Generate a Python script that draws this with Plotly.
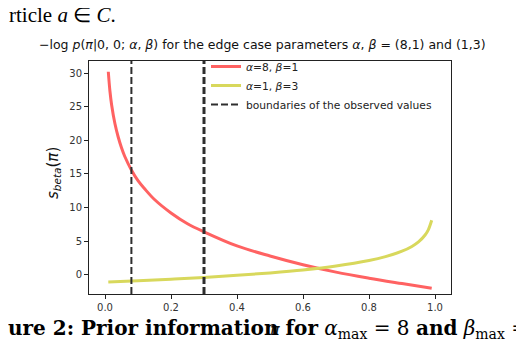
import plotly.graph_objects as go

# values
pi_red = [0.01, 0.015, 0.02, 0.03, 0.04, 0.05, 0.06, 0.08, 0.1, 0.12, 0.15,
          0.2, 0.25, 0.3, 0.4, 0.5, 0.6, 0.7, 0.8, 0.9, 0.99]
s_red = [30.2, 27.3, 25.3, 22.5, 20.5, 18.9, 17.6, 15.6, 14.0, 12.8, 11.2,
         9.2, 7.6, 6.4, 4.3, 2.8, 1.5, 0.4, -0.5, -1.3, -2.0]

pi_yel = [0.01, 0.1, 0.2, 0.3, 0.4, 0.5, 0.6, 0.7, 0.8, 0.85, 0.9, 0.93,
          0.95, 0.97, 0.98, 0.99]
s_yel = [-1.08, -0.89, -0.65, -0.39, -0.08, 0.29, 0.73, 1.31, 2.12, 2.70,
         3.51, 4.22, 4.89, 5.92, 6.73, 8.11]

boundaries = [0.08, 0.3]

x_range = [-0.0485, 1.0485]
y_range = [-2.85, 31.8]
x_ticks = [0.0, 0.2, 0.4, 0.6, 0.8, 1.0]
y_ticks = [0, 5, 10, 15, 20, 25, 30]

W, H = 524, 342
L, R, T, B = 81, 81, 53, 56
pw, ph = W - L - R, H - T - B


def px(x):
    return (x - L) / pw


def py(y):
    return (H - B - y) / ph


fig = go.Figure()
fig.add_trace(go.Scatter(
    x=pi_red, y=s_red, mode="lines", name="<i>α</i>=8, <i>β</i>=1",
    line=dict(color="#ff6262", width=3, shape="spline"),
))
fig.add_trace(go.Scatter(
    x=pi_yel, y=s_yel, mode="lines", name="<i>α</i>=1, <i>β</i>=3",
    line=dict(color="#d8d85c", width=3, shape="spline"),
))
for i, b in enumerate(boundaries):
    fig.add_trace(go.Scatter(
        x=[b, b], y=y_range, mode="lines",
        name="boundaries of the observed values",
        showlegend=(i == 0),
        line=dict(color="#2e2e2e", width=2 if i == 0 else 3, dash="7px,3px"),
    ))

axis_common = dict(
    showgrid=False, zeroline=False, showline=True, linecolor="#222",
    linewidth=1, mirror=True, ticks="outside", ticklen=4, tickwidth=1,
    tickcolor="#222", tickfont=dict(family="DejaVu Sans", size=10, color="#333"),
)
fig.update_xaxes(range=x_range, tickvals=x_ticks,
                 ticktext=[f"{t:.1f}" for t in x_ticks], **axis_common)
fig.update_yaxes(range=y_range, tickvals=y_ticks, **axis_common)

fig.update_layout(
    width=W, height=H,
    margin=dict(l=L, r=R, t=T, b=B),
    plot_bgcolor="white", paper_bgcolor="white",
    font=dict(family="DejaVu Sans", color="#222"),
    legend=dict(
        x=px(198), y=py(44), xanchor="left", yanchor="top",
        bgcolor="rgba(255,255,255,0)", font=dict(size=10.7, color="#222"),
        tracegroupgap=0,
    ),
    annotations=[
        dict(text="−log <i>p</i>(<i>π</i>|0, 0; <i>α</i>, <i>β</i>) for the edge case "
                  "parameters <i>α</i>, <i>β</i> = (8,1) and (1,3)",
             xref="paper", yref="paper", x=px(254), y=py(36),
             xanchor="center", yanchor="middle", showarrow=False,
             font=dict(family="DejaVu Sans", size=12.5, color="#111")),
        dict(text="<i>s<sub>beta</sub></i>(<i>π</i>)", textangle=-90,
             xref="paper", yref="paper", x=px(45), y=py(165),
             xanchor="center", yanchor="middle", showarrow=False,
             font=dict(family="DejaVu Sans", size=15, color="#111")),
        dict(text="<i>π</i>", xref="paper", yref="paper", x=px(267), y=py(321),
             xanchor="center", yanchor="middle", showarrow=False,
             font=dict(family="DejaVu Sans", size=16, color="#111")),
        dict(text="rticle <i>a</i> ∈ <i>C</i>.", xref="paper", yref="paper",
             x=px(-1), y=py(7), xanchor="left", yanchor="middle",
             showarrow=False,
             font=dict(family="Liberation Serif", size=21, color="black")),
        dict(text="<b>ure 2: Prior information for</b> <i>α</i><sub>max</sub> = 8 "
                  "<b>and</b> <i>β</i><sub>max</sub> =",
             xref="paper", yref="paper", x=px(-2), y=py(321),
             xanchor="left", yanchor="middle", showarrow=False,
             font=dict(family="DejaVu Serif", size=20, color="black")),
    ],
)

fig.write_html("out.html")
